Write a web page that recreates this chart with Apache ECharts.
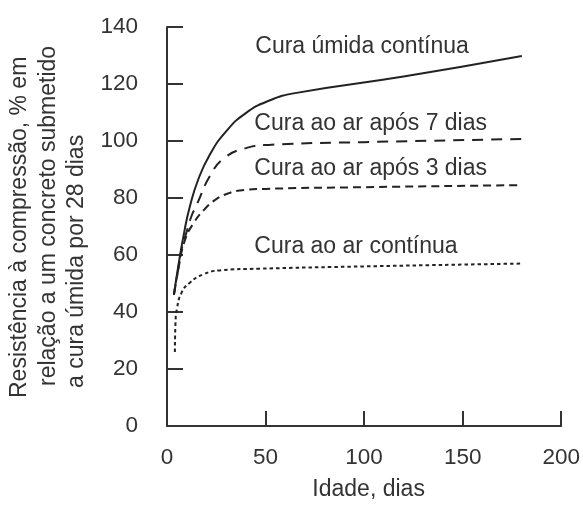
<!DOCTYPE html>
<html>
<head>
<meta charset="utf-8">
<script src="https://cdn.jsdelivr.net/npm/echarts@6/dist/echarts.min.js"></script>
<style>
  html, body { margin: 0; padding: 0; background: #fff; }
  #chart { width: 583px; height: 506px; }
</style>
</head>
<body>
<div id="chart"></div>
<script>
// Age in days vs. compressive strength (% of 28-day moist-cured concrete)
const umidaContinua = [
  [3.5, 46], [5.7, 56], [9, 69], [11.6, 77], [15.8, 86.4], [21.7, 95.2],
  [30, 103.4], [40, 109.8], [52, 114.2], [65, 116.8], [120, 122.6], [180, 129.8]
];
const arApos7 = [
  [3.5, 46], [5.7, 55], [7.4, 62], [9.9, 68], [12.4, 73.6], [15, 77.5], [21.7, 87.6],
  [29, 94], [40, 97.5], [53, 98.7], [100, 99.6], [180, 100.7]
];
const arApos3 = [
  [3.5, 46], [6, 56], [9, 65], [13.3, 71], [19, 76], [25, 79.6],
  [31, 81.6], [37, 82.6], [50, 83.2], [100, 83.8], [180, 84.5]
];
const arContinua = [
  [4, 26], [4.3, 36], [5, 41], [7.4, 46.8], [11.6, 50.3], [18.3, 53.2],
  [26.7, 54.6], [47, 55.2], [100, 56], [180, 57]
];

// curve captions, anchored at their left edge (days, %)
const curveNames = ['Cura úmida contínua', 'Cura ao ar após 7 dias', 'Cura ao ar após 3 dias', 'Cura ao ar contínua'];
const curveNameAnchors = [[44.8, 133.2], [44.3, 106.2], [44.3, 90.4], [44.3, 63]];

const yTitleLines = [
  'Resistência à compressão, % em',
  'relação a um concreto submetido',
  'a cura úmida por 28 dias'
];
const xTitle = 'Idade, dias';

const FONT = '"Liberation Sans", Arial, sans-serif';
const INK = '#333';

const chart = echarts.init(document.getElementById('chart'));

function curve(data, dash, width) {
  return {
    type: 'line', data, smooth: 0.5, showSymbol: false, silent: true,
    lineStyle: { color: '#222', width, type: dash }
  };
}

chart.setOption({
  animation: false,
  grid: { left: 167, right: 19, top: 27, bottom: 79 },
  xAxis: {
    type: 'value', min: 0, max: 200, interval: 50,
    name: xTitle, nameLocation: 'middle', nameGap: 52,
    nameTextStyle: { fontFamily: FONT, fontSize: 23, color: INK, padding: [0, 0, 0, 9] },
    axisLine: { lineStyle: { color: INK, width: 2 } },
    axisTick: { inside: true, length: 15, lineStyle: { color: INK, width: 2 } },
    axisLabel: { margin: 20, fontFamily: FONT, fontSize: 22.5, color: INK },
    splitLine: { show: false }
  },
  yAxis: {
    type: 'value', min: 0, max: 140, interval: 20,
    axisLine: { show: true, lineStyle: { color: INK, width: 2 } },
    axisTick: { show: true, inside: true, length: 16, lineStyle: { color: INK, width: 2 } },
    axisLabel: { margin: 29, fontFamily: FONT, fontSize: 22.5, color: INK },
    splitLine: { show: false }
  },
  series: [
    curve(umidaContinua, 'solid', 2),
    curve(arApos7, [11, 8], 2),
    curve(arApos3, [8, 5], 2),
    curve(arContinua, [3.5, 3], 2),
    {
      type: 'scatter', symbolSize: 0, silent: true,
      itemStyle: { opacity: 1 },
      data: curveNameAnchors.map((p, i) => ({ value: p, name: curveNames[i] })),
      label: {
        show: true, position: 'right', distance: 0, formatter: '{b}',
        fontFamily: FONT, fontSize: 23, color: INK, opacity: 1
      }
    }
  ],
  graphic: yTitleLines.map((t, i) => ({
    type: 'text',
    x: [20, 49, 77][i],
    y: [398, 386, 388][i],
    rotation: Math.PI / 2,
    style: {
      text: t, fontFamily: FONT, fontSize: 23, fill: INK,
      align: 'left', verticalAlign: 'middle'
    }
  }))
});
</script>
</body>
</html>
